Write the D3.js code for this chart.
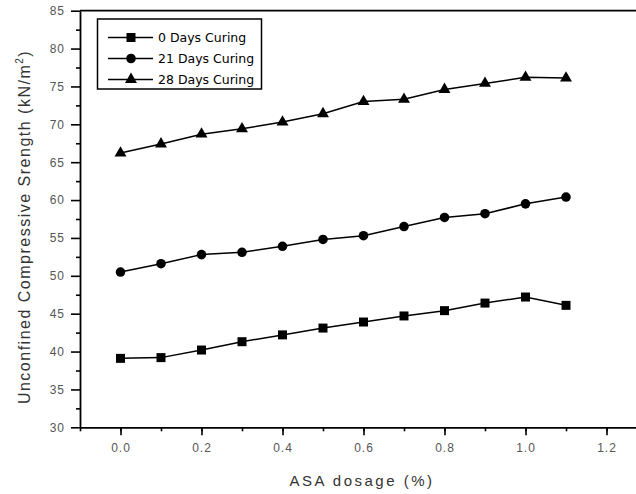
<!DOCTYPE html>
<html>
<head>
<meta charset="utf-8">
<script src="https://cdn.jsdelivr.net/npm/d3@7"></script>
<style>
body { margin: 0; background: #fff; }
svg { display: block; }
</style>
</head>
<body>
<div id="showChart"></div>
<script>
// chart data
var dosage = [0.0, 0.1, 0.2, 0.3, 0.4, 0.5, 0.6, 0.7, 0.8, 0.9, 1.0, 1.1];
var days0 = [39.1, 39.2, 40.2, 41.3, 42.2, 43.1, 43.9, 44.7, 45.4, 46.4, 47.2, 46.1];
var days21 = [50.5, 51.6, 52.8, 53.1, 53.9, 54.8, 55.3, 56.5, 57.7, 58.2, 59.5, 60.4];
var days28 = [66.2, 67.4, 68.7, 69.4, 70.3, 71.4, 73.0, 73.3, 74.6, 75.4, 76.2, 76.1];
var seriesNames = ["0 Days Curing", "21 Days Curing", "28 Days Curing"];
var xTicks = [0.0, 0.2, 0.4, 0.6, 0.8, 1.0, 1.2];
var yTicks = [30, 35, 40, 45, 50, 55, 60, 65, 70, 75, 80, 85];

var width = 636, height = 494;
var plotLeft = 80, plotTop = 10.7, plotBottom = 427.3;

var svg = d3.select("#showChart").append("svg")
    .attr("width", width)
    .attr("height", height);

var x = d3.scaleLinear().domain([-0.1, 1.3]).range([plotLeft, plotLeft + 1.4 * 405]);
var y = d3.scaleLinear().domain([30, 85]).range([plotBottom, plotTop]);

// minor ticks first (short), then major axis with labels
svg.append("g")
    .attr("transform", "translate(0," + plotBottom + ")")
    .call(d3.axisBottom(x).tickValues(d3.range(-0.1, 1.25, 0.1)).tickSize(4).tickFormat(""))
    .call(function(g) { g.select(".domain").remove(); });
svg.append("g")
    .attr("transform", "translate(" + plotLeft + ",0)")
    .call(d3.axisLeft(y).tickValues(d3.range(32.5, 85, 5)).tickSize(4).tickFormat(""))
    .call(function(g) { g.select(".domain").remove(); });

svg.append("g")
    .attr("transform", "translate(0," + plotBottom + ")")
    .call(d3.axisBottom(x).tickValues(xTicks).tickSize(8).tickPadding(8).tickSizeOuter(0)
        .tickFormat(d3.format(".1f")));
svg.append("g")
    .attr("transform", "translate(" + plotLeft + ",0)")
    .call(d3.axisLeft(y).tickValues(yTicks).tickSize(9).tickPadding(6).tickSizeOuter(0));

svg.selectAll(".tick line").attr("stroke", "#000").attr("stroke-width", 1.6);
svg.selectAll(".domain").attr("stroke", "#000").attr("stroke-width", 1.8);
svg.selectAll(".tick text")
    .attr("fill", "#555")
    .style("font-family", "Liberation Sans, Arial, sans-serif")
    .style("font-size", "12px")
    .style("letter-spacing", "1px");

// top frame line
svg.append("line")
    .attr("x1", plotLeft).attr("x2", width)
    .attr("y1", plotTop).attr("y2", plotTop)
    .attr("stroke", "#000").attr("stroke-width", 1.8);

// axis titles
svg.append("text")
    .attr("x", 362).attr("y", 486)
    .attr("text-anchor", "middle")
    .attr("fill", "#333")
    .style("font-family", "Liberation Sans, Arial, sans-serif")
    .style("font-size", "15px")
    .style("letter-spacing", "2.5px")
    .text("ASA dosage (%)");

var yTitle = svg.append("text")
    .attr("transform", "translate(30,227) rotate(-90)")
    .attr("text-anchor", "middle")
    .attr("fill", "#333")
    .style("font-family", "Liberation Sans, Arial, sans-serif")
    .style("font-size", "16px")
    .style("letter-spacing", "1.5px");
yTitle.append("tspan").text("Unconfined Compressive Srength (kN/m");
yTitle.append("tspan").attr("dy", -7).style("font-size", "10px").text("2");
yTitle.append("tspan").attr("dy", 7).text(")");

// markers
var symbols = [d3.symbolSquare, d3.symbolCircle, d3.symbolTriangle];
var symbolSizes = [81, 72, 62];
var allSeries = [days0, days21, days28];

var line = d3.line()
    .x(function(d, i) { return x(dosage[i]); })
    .y(function(d) { return y(d); });

for (var s = 0; s < allSeries.length; s++) {
    svg.append("path")
        .datum(allSeries[s])
        .attr("d", line)
        .attr("fill", "none")
        .attr("stroke", "#000")
        .attr("stroke-width", 1.5);

    svg.selectAll(".pt" + s)
        .data(allSeries[s])
        .enter()
        .append("path")
        .attr("class", "pt" + s)
        .attr("d", d3.symbol().type(symbols[s]).size(symbolSizes[s]))
        .attr("transform", function(d, i) {
            return "translate(" + x(dosage[i]) + "," + y(d) + ")";
        })
        .attr("fill", "#000");
}

// legend
var legend = svg.append("g");
legend.append("rect")
    .attr("x", 97.5).attr("y", 19)
    .attr("width", 164).attr("height", 70)
    .attr("fill", "#fff")
    .attr("stroke", "#000")
    .attr("stroke-width", 1.5);

for (var k = 0; k < seriesNames.length; k++) {
    var ly = 37.5 + k * 21;
    legend.append("line")
        .attr("x1", 108).attr("x2", 153)
        .attr("y1", ly).attr("y2", ly)
        .attr("stroke", "#000").attr("stroke-width", 1.5);
    legend.append("path")
        .attr("d", d3.symbol().type(symbols[k]).size(symbolSizes[k]))
        .attr("transform", "translate(131," + ly + ")")
        .attr("fill", "#000");
    legend.append("text")
        .attr("x", 158).attr("y", ly)
        .attr("dy", "0.35em")
        .attr("fill", "#000")
        .style("font-family", "DejaVu Sans, Verdana, sans-serif")
        .style("font-size", "12.5px")
        .text(seriesNames[k]);
}
</script>
</body>
</html>
